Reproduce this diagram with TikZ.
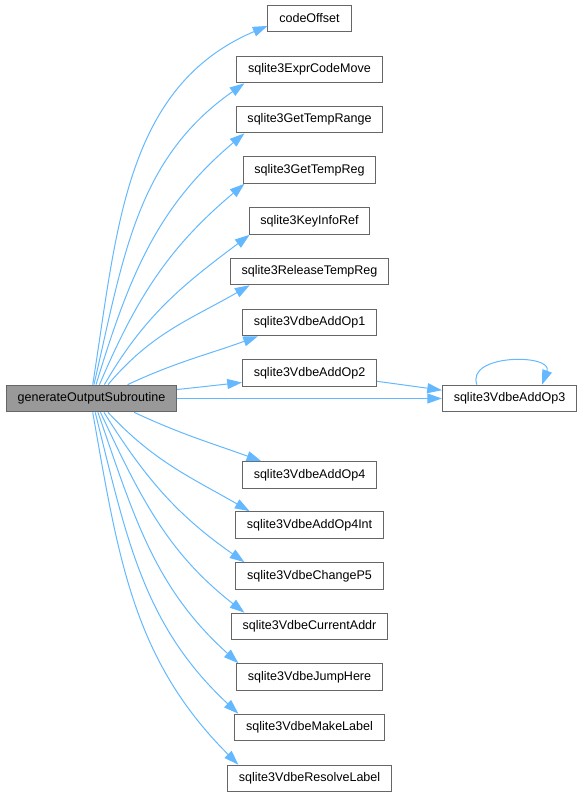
\documentclass[tikz,border=0pt]{standalone}
\usepackage{fontspec}
\setmainfont{Liberation Sans}
\usepackage{tikz}
\usetikzlibrary{arrows.meta}
\definecolor{edgeblue}{HTML}{63B8FF}
\definecolor{boxgray}{HTML}{666666}
\definecolor{rootfill}{HTML}{999999}

\begin{document}
\begin{tikzpicture}[x=0.75pt, y=0.75pt,
    fn/.style={draw=boxgray, fill=white, line width=0.75pt, minimum height=20pt,
        inner xsep=8.5pt, inner ysep=0pt, font=\fontsize{9.4}{11}\selectfont},
    root/.style={fn, fill=rootfill},
    edge/.style={draw=edgeblue, line width=0.75pt, -{Triangle[length=11pt,width=7.5pt]}}
]
    \useasboundingbox (0,0) rectangle (584,797);

    % Caller
    \node[root] (main) at (91.5,398.5) {generateOutputSubroutine};

    % Called functions
    \foreach \n/\y in {codeOffset/778.5, sqlite3ExprCodeMove/727.5,
        sqlite3GetTempRange/677.5, sqlite3GetTempReg/627, sqlite3KeyInfoRef/576,
        sqlite3ReleaseTempReg/525.5, sqlite3VdbeAddOp1/474.5, sqlite3VdbeAddOp2/424,
        sqlite3VdbeAddOp4/322, sqlite3VdbeAddOp4Int/272, sqlite3VdbeChangeP5/221,
        sqlite3VdbeCurrentAddr/170.5, sqlite3VdbeJumpHere/120,
        sqlite3VdbeMakeLabel/69.5, sqlite3VdbeResolveLabel/18.5} {
        \node[fn] (\n) at (309.5,\y) {\n};
    }
    \node[fn] (sqlite3VdbeAddOp3) at (509.5,398.5) {sqlite3VdbeAddOp3};

    % Calls from the caller (start anchor / out / in / end anchor)
    \foreach \n/\s/\o/\i/\t in {codeOffset/85/81/203/190,
        sqlite3ExprCodeMove/80/77/215/192, sqlite3GetTempRange/72/73/220/192,
        sqlite3GetTempReg/60/67/220/192, sqlite3KeyInfoRef/47/60/217/193,
        sqlite3ReleaseTempReg/40/50/210/193, sqlite3VdbeAddOp1/21/25/200/195,
        sqlite3VdbeAddOp2/6/6/186/188, sqlite3VdbeAddOp4/342/-25/160/164,
        sqlite3VdbeAddOp4Int/320/-47/150/167, sqlite3VdbeChangeP5/312/-58/145/168,
        sqlite3VdbeCurrentAddr/303/-65/142/168, sqlite3VdbeJumpHere/295/-71/138/169,
        sqlite3VdbeMakeLabel/285/-76/137/169, sqlite3VdbeResolveLabel/275/-80/135/169} {
        \draw[edge] (main.\s) to[out=\o, in=\i] (\n.\t);
    }
    \draw[edge] (main.east) -- (sqlite3VdbeAddOp3.west);

    % AddOp2 calls AddOp3, which calls itself
    \draw[edge] (sqlite3VdbeAddOp2.353) -- (sqlite3VdbeAddOp3.173);
    \draw[edge] (sqlite3VdbeAddOp3.157) to[out=110, in=70, looseness=1.3] (sqlite3VdbeAddOp3.23);

\end{tikzpicture}
\end{document}
